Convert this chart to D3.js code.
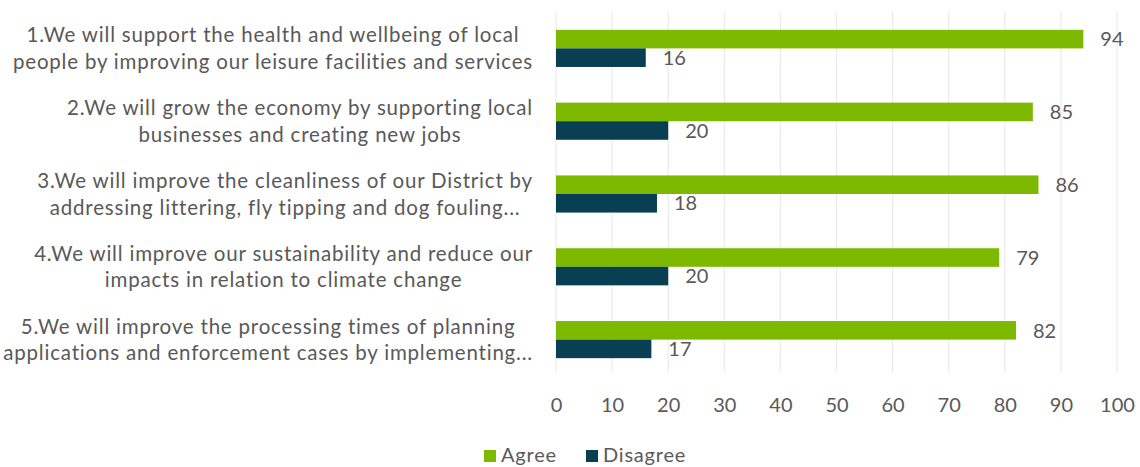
<!DOCTYPE html>
<html>
<head>
<meta charset="utf-8">
<script src="https://cdn.jsdelivr.net/npm/d3@7"></script>
<style>
  html, body { margin: 0; padding: 0; background: #ffffff; }
  svg { display: block; }
  text { font-family: Lato, "Open Sans", sans-serif; fill: #595959; }
</style>
</head>
<body>
<svg id="chart" width="1140" height="467"></svg>
<script>
// Survey statements (already wrapped into display lines)
const categories = [
  ["1.We will support the health and wellbeing of local", "people by improving our leisure facilities and services"],
  ["2.We will grow the economy by supporting local", "businesses and creating new jobs"],
  ["3.We will improve the cleanliness of our District by", "addressing littering, fly tipping and dog fouling..."],
  ["4.We will improve our sustainability and reduce our", "impacts in relation to climate change"],
  ["5.We will improve the processing times of planning", "applications and enforcement cases by implementing..."]
];
const seriesNames = ["Agree", "Disagree"];
const agree = [94, 85, 86, 79, 82];
const disagree = [16, 20, 18, 20, 17];
const xTicks = [0, 10, 20, 30, 40, 50, 60, 70, 80, 90, 100];
const colors = { Agree: "#7cb900", Disagree: "#093f52" };

const svg = d3.select("#chart");
const FONT = 20;

const x = d3.scaleLinear().domain([0, 100]).range([556, 1117]);
const y = d3.scaleBand()
  .domain(d3.range(categories.length))
  .range([12, 376])
  .paddingInner(0.49)
  .paddingOuter(0.245);
const ySub = d3.scaleBand().domain(seriesNames).range([0, y.bandwidth()]).padding(0);

const rows = categories.map((lines, i) => ({ i, lines, Agree: agree[i], Disagree: disagree[i] }));

// vertical gridlines
svg.append("g")
  .selectAll("line")
  .data(xTicks)
  .join("line")
  .attr("x1", d => x(d)).attr("x2", d => x(d))
  .attr("y1", 12).attr("y2", 372)
  .attr("stroke", "#ebebeb")
  .attr("stroke-width", 1.2);

// bars
const groups = svg.append("g")
  .selectAll("g")
  .data(rows)
  .join("g")
  .attr("transform", d => `translate(0,${y(d.i)})`);

groups.selectAll("rect")
  .data(d => seriesNames.map(s => ({ s, v: d[s] })))
  .join("rect")
  .attr("x", x(0))
  .attr("y", d => ySub(d.s))
  .attr("width", d => x(d.v) - x(0))
  .attr("height", ySub.bandwidth())
  .attr("fill", d => colors[d.s]);

// value labels
groups.selectAll("text.val")
  .data(d => seriesNames.map(s => ({ s, v: d[s] })))
  .join("text")
  .attr("class", "val")
  .attr("x", d => x(d.v) + 17)
  .attr("y", d => ySub(d.s) + ySub.bandwidth() / 2)
  .attr("dy", "0.36em")
  .style("font-size", FONT + "px")
  .text(d => d.v);

// category labels: lines centred within a right-aligned block
const labelRight = 533;
const lineGap = 26.6;
const labels = svg.append("g");
rows.forEach(r => {
  const g = labels.append("g");
  const cy = y(r.i) + y.bandwidth() / 2;
  const texts = r.lines.map((ln, k) =>
    g.append("text")
      .style("font-size", "20.5px")
      .style("letter-spacing", "0.8px")
      .attr("text-anchor", "middle")
      .attr("y", cy + (k - (r.lines.length - 1) / 2) * lineGap)
      .attr("dy", "0.36em")
      .text(ln));
  const w = d3.max(texts, t => t.node().getComputedTextLength());
  texts.forEach(t => t.attr("x", labelRight - w / 2));
});

// x axis tick labels
const xAxis = d3.axisBottom(x).tickValues(xTicks).tickSize(0).tickPadding(0);
const axisG = svg.append("g").attr("transform", "translate(0,398)").call(xAxis);
axisG.select(".domain").remove();
axisG.selectAll("text")
  .attr("dy", "0.71em")
  .style("font-size", FONT + "px")
  .style("font-family", "Lato, sans-serif")
  .attr("fill", "#595959");

// legend
const legendItems = [
  { s: "Agree", x: 484 },
  { s: "Disagree", x: 586 }
];
const legend = svg.append("g");
legendItems.forEach(it => {
  legend.append("rect")
    .attr("x", it.x).attr("y", 450)
    .attr("width", 12).attr("height", 12)
    .attr("fill", colors[it.s]);
  legend.append("text")
    .attr("x", it.x + 17).attr("y", 462)
    .style("font-size", FONT + "px")
    .style("letter-spacing", "0.8px")
    .text(it.s);
});
</script>
</body>
</html>
